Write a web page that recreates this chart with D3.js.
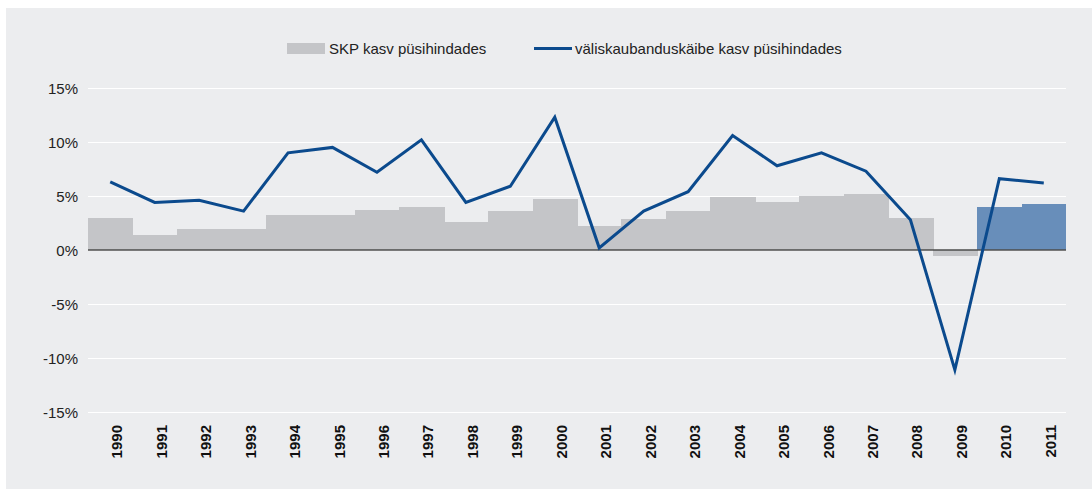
<!DOCTYPE html>
<html>
<head>
<meta charset="utf-8">
<script src="https://cdn.jsdelivr.net/npm/d3@7"></script>
<style>
  body { margin: 0; background: #fff; }
  svg { display: block; font-family: "Liberation Sans", Arial, sans-serif; }
  .axis text { font-size: 15px; fill: #222; }
  .grid line { stroke: #fff; stroke-width: 1; }
  .bar { shape-rendering: crispEdges; }
</style>
</head>
<body>
<svg width="1092" height="490"></svg>
<script>
// data
var years = [1990, 1991, 1992, 1993, 1994, 1995, 1996, 1997, 1998, 1999, 2000,
             2001, 2002, 2003, 2004, 2005, 2006, 2007, 2008, 2009, 2010, 2011];
var gdpGrowth = [3.0, 1.4, 1.9, 1.9, 3.2, 3.2, 3.7, 4.0, 2.6, 3.6, 4.7,
                 2.2, 2.9, 3.6, 4.9, 4.4, 5.0, 5.2, 3.0, -0.6, 4.0, 4.3];
var tradeGrowth = [6.3, 4.4, 4.6, 3.6, 9.0, 9.5, 7.2, 10.2, 4.4, 5.9, 12.3,
                   0.2, 3.6, 5.4, 10.6, 7.8, 9.0, 7.3, 2.8, -11.1, 6.6, 6.2];
var forecastYears = [2010, 2011];
var yTicks = [-15, -10, -5, 0, 5, 10, 15];
var legendLabels = ["SKP kasv püsihindades", "väliskaubanduskäibe kasv püsihindades"];

var svg = d3.select("svg"),
    margin = {top: 88, right: 26, bottom: 78, left: 88},
    width = +svg.attr("width") - margin.left - margin.right,
    height = +svg.attr("height") - margin.top - margin.bottom;

var data = years.map(function(y, i) {
  return {year: y, gdp: gdpGrowth[i], trade: tradeGrowth[i]};
});

// panel background
svg.append("rect")
  .attr("x", 6).attr("y", 8)
  .attr("width", 1092 - 6).attr("height", 489 - 8)
  .attr("fill", "#ecedef");

var x = d3.scaleBand().domain(years).range([0, width]).padding(0),
    y = d3.scaleLinear().domain([-15, 15]).range([height, 0]);

var g = svg.append("g")
  .attr("transform", "translate(" + margin.left + "," + margin.top + ")");

// gridlines + y labels
var yAxis = g.append("g")
  .attr("class", "axis grid")
  .call(d3.axisLeft(y).tickValues(yTicks).tickSize(-width).tickPadding(10)
    .tickFormat(function(d) { return d + "%"; }));
yAxis.select(".domain").remove();
yAxis.selectAll("text").attr("dy", "0.35em");

// bars (widened by a pixel so neighbours don't show seams)
g.selectAll(".bar")
  .data(data)
  .enter().append("rect")
    .attr("class", "bar")
    .attr("x", function(d) { return x(d.year); })
    .attr("y", function(d) { return y(Math.max(0, d.gdp)); })
    .attr("width", function(d, i) { return x.bandwidth() + (i < data.length - 1 ? 1 : 0); })
    .attr("height", function(d) { return Math.abs(y(d.gdp) - y(0)); })
    .attr("fill", function(d) {
      return forecastYears.indexOf(d.year) >= 0 ? "#688eba" : "#c4c5c8";
    });

// zero line
g.append("line")
  .attr("x1", 0).attr("x2", width)
  .attr("y1", y(0)).attr("y2", y(0))
  .attr("stroke", "#4d4d4d")
  .attr("stroke-width", 1.5);

// trade line
var line = d3.line()
  .x(function(d) { return x(d.year) + x.bandwidth() / 2; })
  .y(function(d) { return y(d.trade); });

g.append("path")
  .datum(data)
  .attr("fill", "none")
  .attr("stroke", "#0b4a8d")
  .attr("stroke-width", 3)
  .attr("stroke-linejoin", "miter")
  .attr("d", line);

// year labels
g.selectAll(".yearlabel")
  .data(years)
  .enter().append("text")
    .attr("class", "yearlabel")
    .attr("transform", function(d) {
      return "translate(" + (x(d) + x.bandwidth() / 2 + 12) + "," + (height + 13) + ") rotate(-90)";
    })
    .attr("text-anchor", "end")
    .attr("font-size", "15px")
    .attr("font-weight", "bold")
    .attr("fill", "#111")
    .text(function(d) { return d; });

// legend
var legend = svg.append("g");
legend.append("rect")
  .attr("x", 287).attr("y", 43)
  .attr("width", 38).attr("height", 11)
  .attr("fill", "#c4c5c8");
legend.append("text")
  .attr("x", 329).attr("y", 54)
  .attr("font-size", "15px").attr("fill", "#222")
  .text(legendLabels[0]);
legend.append("line")
  .attr("x1", 534).attr("x2", 572)
  .attr("y1", 48.5).attr("y2", 48.5)
  .attr("stroke", "#0b4a8d").attr("stroke-width", 3);
legend.append("text")
  .attr("x", 575).attr("y", 54)
  .attr("font-size", "15px").attr("fill", "#222")
  .text(legendLabels[1]);
</script>
</body>
</html>
